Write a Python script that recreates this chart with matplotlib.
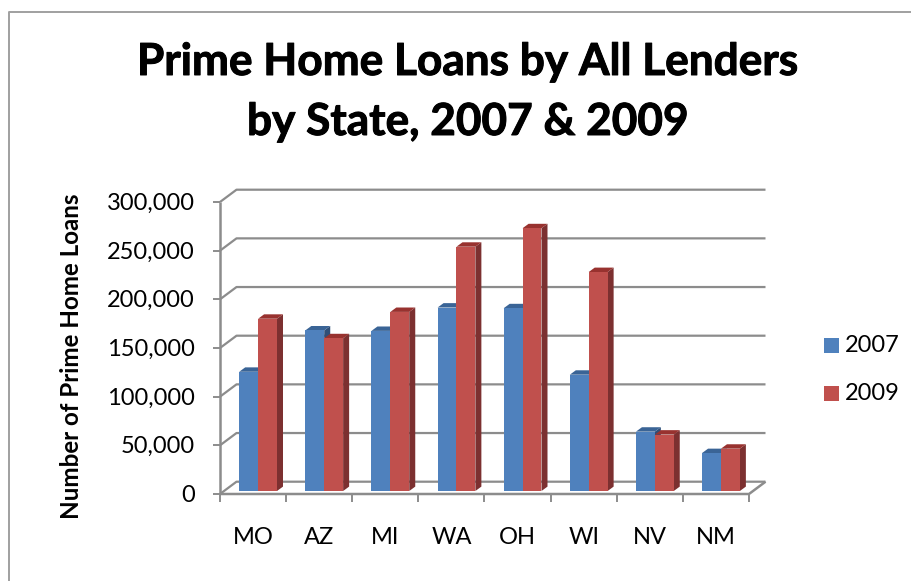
import matplotlib
matplotlib.use("Agg")
import matplotlib.pyplot as plt
import matplotlib.patheffects as pe
from matplotlib.patches import Polygon, Rectangle

plt.rcParams['font.family'] = ['Lato', 'DejaVu Sans']

states = ["MO", "AZ", "MI", "WA", "OH", "WI", "NV", "NM"]
loans_2007 = [122500, 165000, 164500, 188500, 187800, 119500, 61000, 39000]
loans_2009 = [177000, 157000, 184000, 251000, 270000, 225000, 58000, 43500]
y_ticks = [0, 50000, 100000, 150000, 200000, 250000, 300000]
series_names = ["2007", "2009"]

W, H = 912, 581
BLUE, BLUE_TOP, BLUE_SIDE = "#4F81BD", "#3A6496", "#2F4F78"
RED, RED_TOP, RED_SIDE = "#C0504D", "#98322F", "#7C3030"
GRID = "#8C8C8C"

fig = plt.figure(figsize=(W / 100, H / 100), dpi=100, facecolor="white")

# Front plane of the 3-D box, placed in pixel terms
L, R, Y0, Y300 = 220, 749, 494, 202
ax = fig.add_axes([L / W, 1 - Y0 / H, (R - L) / W, (Y0 - Y300) / H])
ax.set_xlim(0, len(states))
ax.set_ylim(0, 300000)
ax.patch.set_visible(False)
for s in ax.spines.values():
    s.set_visible(False)
ax.tick_params(left=False, bottom=False, labelleft=False, labelbottom=False)

px_x = len(states) / (R - L)
px_y = 300000 / (Y0 - Y300)

# Depth of the box and of the bars, in data units
box_dx, box_dy = 16.5 * px_x, 12.3 * px_y
bar_dx, bar_dy = 6 * px_x, 4.4 * px_y
base_dy = 3 * px_y
bar_w = 18.9 * px_x
group_left = 19.2 * px_x


def line(xs, ys, z=1, lw=1.6):
    ax.plot(xs, ys, color=GRID, lw=lw, clip_on=False, zorder=z, solid_capstyle="butt")


# Back wall gridlines with their slanted links to the front axis
for v in y_ticks:
    line([0, box_dx, len(states) + box_dx], [v, v + box_dy, v + box_dy])
    line([-7 * px_x, 0], [v, v], lw=1.4)

# Axis lines, floor edge and category ticks
line([0, 0], [0, 300000], z=2, lw=1.8)
line([0, len(states), len(states) + box_dx], [0, 0, box_dy], z=2, lw=1.8)
for i in range(len(states) + 1):
    line([i, i], [0, -8 * px_y], lw=1.4)


def bar3d(x, v, front, top, side, z):
    y0, y1 = base_dy, base_dy + v
    x1 = x + bar_w
    ax.add_patch(Polygon([(x1, y0), (x1 + bar_dx, y0 + bar_dy), (x1 + bar_dx, y1 + bar_dy), (x1, y1)],
                         fc=side, ec="none", zorder=z, clip_on=False))
    ax.add_patch(Polygon([(x, y1), (x + bar_dx, y1 + bar_dy), (x1 + bar_dx, y1 + bar_dy), (x1, y1)],
                         fc=top, ec="none", zorder=z, clip_on=False))
    ax.add_patch(Rectangle((x, y0), bar_w, v, fc=front, ec="none", zorder=z + 0.1, clip_on=False))


for i, (a, b) in enumerate(zip(loans_2007, loans_2009)):
    bar3d(i + group_left, a, BLUE, BLUE_TOP, BLUE_SIDE, 3)
    bar3d(i + group_left + bar_w, b, RED, RED_TOP, RED_SIDE, 3.5)

# Tick labels
for v in y_ticks:
    ax.text(-25 * px_x, v - 1.5 * px_y, f"{v:,}", ha="right", va="center", fontsize=17, clip_on=False)
for i, s in enumerate(states):
    ax.text(i + 0.5, -43 * px_y, s, ha="center", va="center", fontsize=17, clip_on=False)

# Title and y axis label, with a thin outline for extra weight
heavy = [pe.withStroke(linewidth=0.7, foreground="black")]
fig.text(467.5 / W, 1 - 62 / H, "Prime Home Loans by All Lenders", ha="center", va="center",
         fontsize=31.8, fontweight="bold", path_effects=heavy)
fig.text(467.5 / W, 1 - 122 / H, "by State, 2007 & 2009", ha="center", va="center",
         fontsize=31.8, fontweight="bold", path_effects=heavy)
fig.text(71.5 / W, 1 - 356 / H, "Number of Prime Home Loans", rotation=90, ha="center", va="center",
         fontsize=17.4, fontweight="bold")

# Legend
for name, color, yc in zip(series_names, [BLUE, RED], [345, 393]):
    fig.add_artist(Rectangle((824 / W, 1 - (yc + 7.5) / H), 15 / W, 15 / H, fc=color, ec="none",
                             transform=fig.transFigure))
    fig.text(845 / W, 1 - yc / H, name, ha="left", va="center", fontsize=17)

# Chart frame
frame = "#A0A0A0"
fig.add_artist(plt.Line2D([9.5 / W, 9.5 / W, 1], [0, 1 - 11.5 / H, 1 - 11.5 / H], color=frame, lw=1.4,
                          transform=fig.transFigure))

fig.savefig("out.png", dpi=100)
